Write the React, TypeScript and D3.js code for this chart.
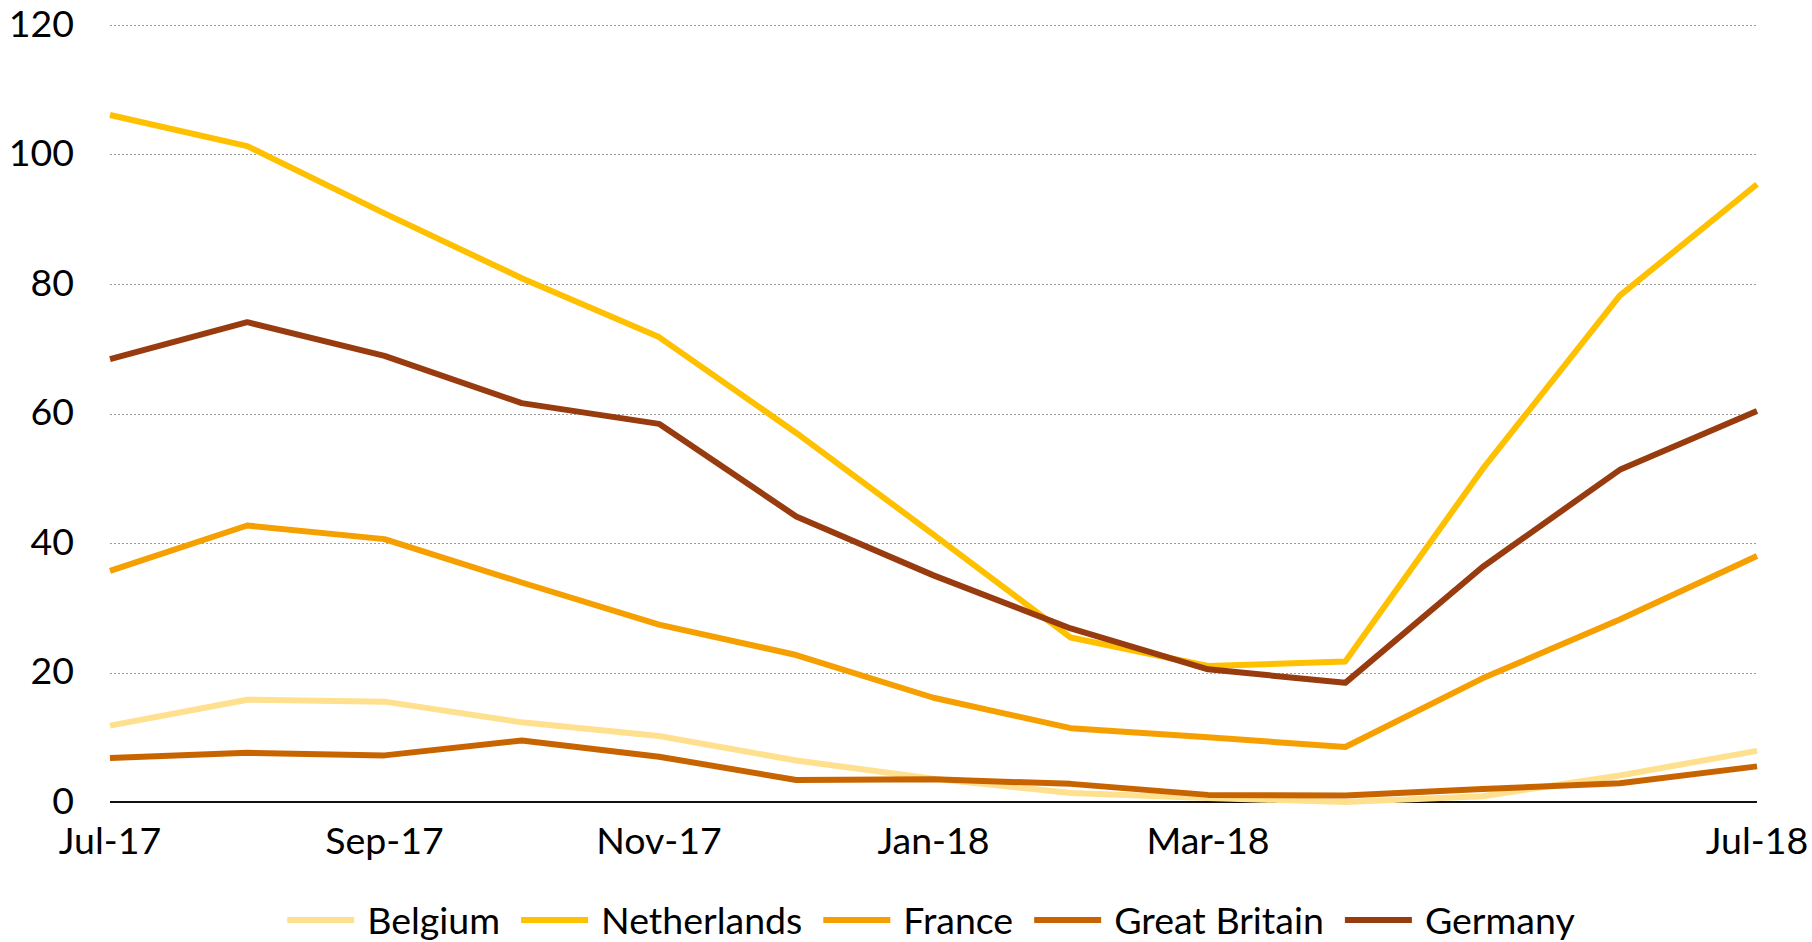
import { useEffect, useRef } from "react";
import * as d3 from "d3";

const months = [
	"Jul-17", "Aug-17", "Sep-17", "Oct-17", "Nov-17", "Dec-17", "Jan-18",
	"Feb-18", "Mar-18", "Apr-18", "May-18", "Jun-18", "Jul-18",
];
const tickLabels = ["Jul-17", "Sep-17", "Nov-17", "Jan-18", "Mar-18", "Jul-18"];
const yTicks = [0, 20, 40, 60, 80, 100, 120];

const belgium = [11.8, 15.8, 15.5, 12.3, 10.2, 6.4, 3.6, 1.4, 0.6, 0, 0.9, 4.1, 7.9];
const netherlands = [106.1, 101.3, 90.9, 80.9, 71.8, 57.0, 41.3, 25.4, 21.0, 21.7, 51.4, 78.2, 95.4];
const france = [35.7, 42.7, 40.6, 33.9, 27.4, 22.7, 16.1, 11.4, 10.0, 8.5, 19.1, 28.2, 38.0];
const greatBritain = [6.8, 7.6, 7.2, 9.5, 7.0, 3.4, 3.5, 2.8, 1.1, 1.0, 2.0, 2.9, 5.5];
const germany = [68.4, 74.1, 68.9, 61.6, 58.4, 44.1, 35.0, 26.8, 20.5, 18.4, 36.3, 51.3, 60.4];

const seriesNames = ["Belgium", "Netherlands", "France", "Great Britain", "Germany"];
const seriesValues = [belgium, netherlands, france, greatBritain, germany];
const colors = ["#FFE08F", "#FFC000", "#F5A000", "#C86400", "#983C10"];

const W = 1812;
const H = 942;
const FONT = "Lato, 'Open Sans', sans-serif";
const FS = 37.5;

function Chart() {
	const ref = useRef<SVGSVGElement>(null);

	useEffect(() => {
		const svg = d3.select(ref.current);
		svg.selectAll("*").remove();

		const x = d3.scalePoint<string>().domain(months).range([110, 1757]);
		const y = d3.scaleLinear().domain([0, 120]).range([802, 25]);

		// gridlines
		svg.append("g")
			.selectAll("line")
			.data(yTicks.filter((d) => d > 0))
			.join("line")
			.attr("x1", 110)
			.attr("x2", 1757)
			.attr("y1", (d) => Math.round(y(d)) + 0.5)
			.attr("y2", (d) => Math.round(y(d)) + 0.5)
			.attr("stroke", "#9a9a9a")
			.attr("stroke-width", 1.2)
			.attr("stroke-dasharray", "2 2");

		// y labels
		svg.append("g")
			.selectAll("text")
			.data(yTicks)
			.join("text")
			.attr("x", 74)
			.attr("y", (d) => y(d) - 2)
			.attr("dy", "0.36em")
			.attr("text-anchor", "end")
			.attr("font-family", FONT)
			.attr("font-size", FS)
			.attr("fill", "#000")
			.text((d) => d);

		// x labels
		svg.append("g")
			.selectAll("text")
			.data(tickLabels)
			.join("text")
			.attr("x", (d) => x(d) as number)
			.attr("y", 854)
			.attr("text-anchor", "middle")
			.attr("font-family", FONT)
			.attr("font-size", FS)
			.attr("fill", "#000")
			.text((d) => d);

		const line = d3
			.line<number>()
			.x((_, i) => x(months[i]) as number)
			.y((d) => y(d));

		// baseline axis
		svg.append("line")
			.attr("x1", 110)
			.attr("x2", 1757)
			.attr("y1", y(0))
			.attr("y2", y(0))
			.attr("stroke", "#111")
			.attr("stroke-width", 2);

		svg.append("g")
			.selectAll("path")
			.data(seriesValues)
			.join("path")
			.attr("d", (d) => line(d))
			.attr("fill", "none")
			.attr("stroke", (_, i) => colors[i])
			.attr("stroke-width", 6)
			.attr("stroke-linejoin", "round");

		// legend
		const legend = svg.append("g");
		const items = legend
			.selectAll("g")
			.data(seriesNames)
			.join("g");
		items
			.append("line")
			.attr("x1", 0)
			.attr("x2", 67)
			.attr("y1", 920)
			.attr("y2", 920)
			.attr("stroke", (_, i) => colors[i])
			.attr("stroke-width", 6);
		items
			.append("text")
			.attr("x", 80)
			.attr("y", 920)
			.attr("dy", "0.36em")
			.attr("font-family", FONT)
			.attr("font-size", FS)
			.attr("fill", "#000")
			.text((d) => d);

		const widths: number[] = [];
		items.select("text").each(function () {
			widths.push((this as SVGTextElement).getComputedTextLength());
		});
		const itemW = widths.map((w) => 80 + w);
		const gap = 21;
		const total = d3.sum(itemW) + gap * (itemW.length - 1);
		let cx = 931 - total / 2;
		items.attr("transform", (_, i) => {
			const t = `translate(${cx},0)`;
			cx += itemW[i] + gap;
			return t;
		});
	}, []);

	return <svg ref={ref} width={W} height={H} style={{ display: "block" }} />;
}

export default function App() {
	return (
		<div style={{ position: "absolute", left: 0, top: 0 }}>
			<Chart />
		</div>
	);
}
